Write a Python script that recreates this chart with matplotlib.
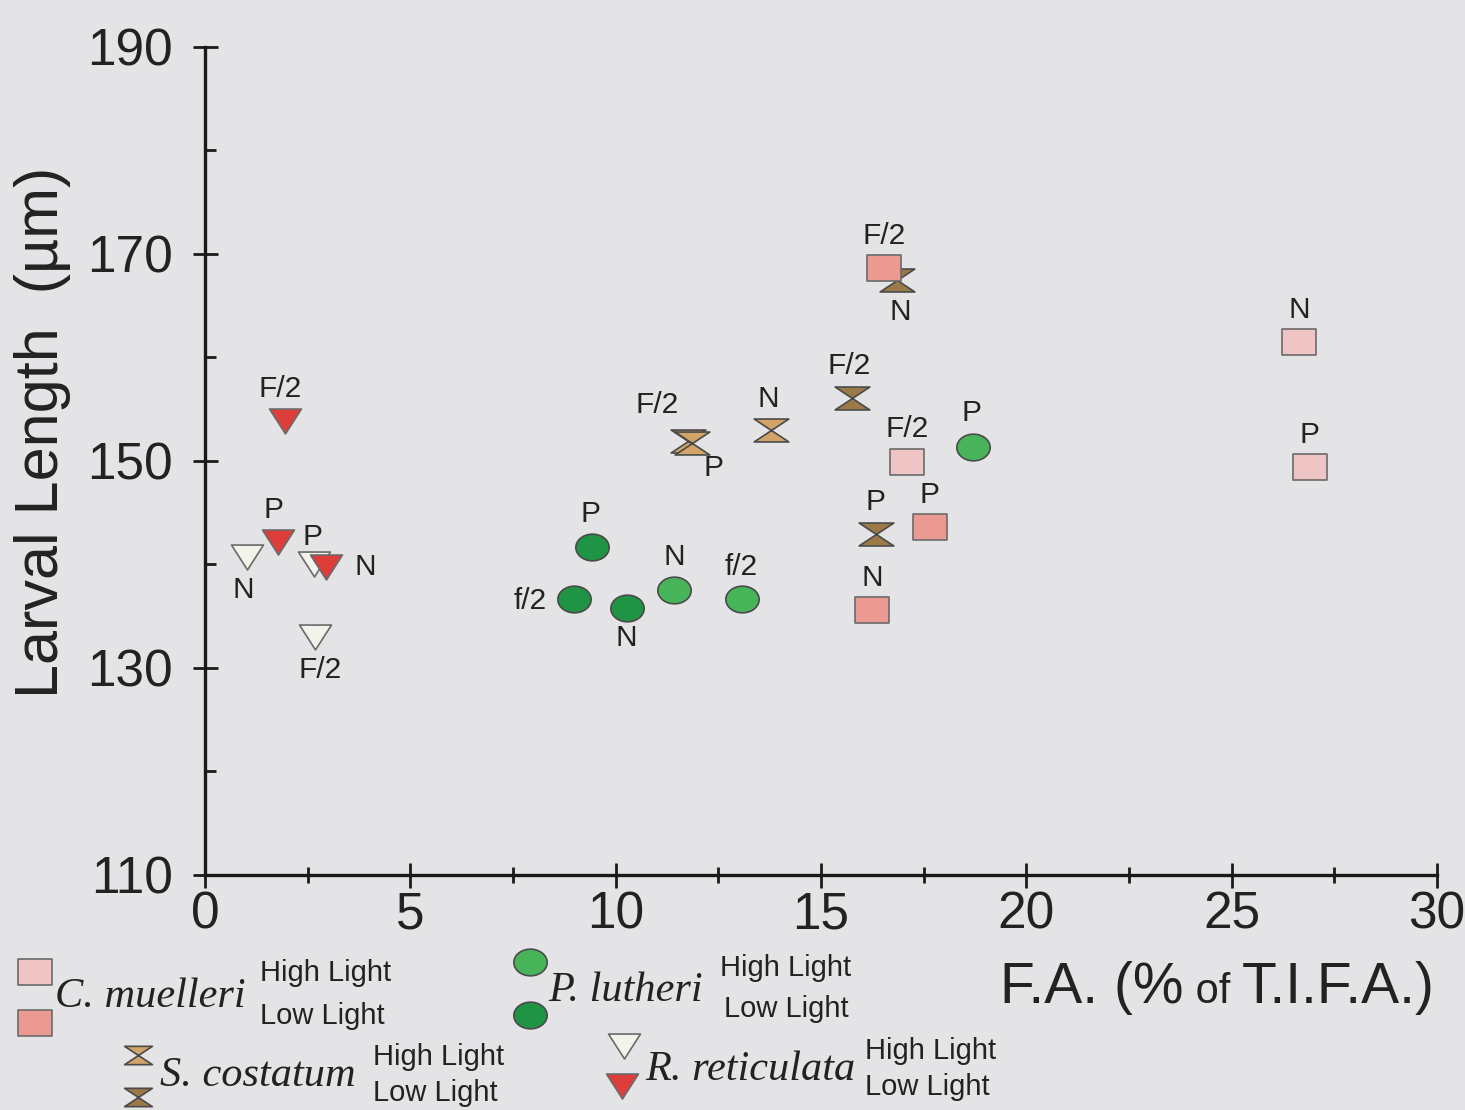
import numpy as np
import matplotlib
matplotlib.use("Agg")
import matplotlib.pyplot as plt
from matplotlib.path import Path

# ---- data: fatty acid (% of T.I.F.A.) vs larval length (um) ----
# each entry: medium label per point
cm_high_x = [17.09, 26.64, 26.90]
cm_high_y = [149.9, 161.5, 149.4]
cm_high_lab = ["F/2", "N", "P"]

cm_low_x = [16.53, 17.65, 16.24]
cm_low_y = [168.6, 143.6, 135.6]
cm_low_lab = ["F/2", "P", "N"]

sc_high_x = [11.75, 11.85, 13.78]
sc_high_y = [151.9, 151.7, 153.0]
sc_high_lab = ["F/2", "P", "N"]

sc_low_x = [15.75, 16.34, 16.85]
sc_low_y = [156.1, 142.9, 167.5]
sc_low_lab = ["F/2", "P", "N"]

pl_high_x = [11.42, 13.07, 18.70]
pl_high_y = [137.5, 136.7, 151.4]
pl_high_lab = ["N", "f/2", "P"]

pl_low_x = [9.42, 8.98, 10.27]
pl_low_y = [141.7, 136.7, 135.8]
pl_low_lab = ["P", "f/2", "N"]

rr_high_x = [1.03, 2.66, 2.68]
rr_high_y = [140.7, 140.0, 133.0]
rr_high_lab = ["N", "P", "F/2"]

rr_low_x = [1.95, 1.78, 2.95]
rr_low_y = [153.9, 142.2, 139.8]
rr_low_lab = ["F/2", "P", "N"]

x_ticks = [0, 5, 10, 15, 20, 25, 30]
y_ticks = [110, 130, 150, 170, 190]

# ---- marker shapes ----
def rect_marker(ratio):
    return Path([(-1, -ratio), (1, -ratio), (1, ratio), (-1, ratio), (-1, -ratio)],
                [Path.MOVETO, Path.LINETO, Path.LINETO, Path.LINETO, Path.CLOSEPOLY])

def ellipse_marker(ratio):
    t = np.linspace(0, 2 * np.pi, 60)
    return Path(np.column_stack([np.cos(t), ratio * np.sin(t)]), closed=True)

def tri_down_marker(ratio):
    return Path([(-1, ratio), (1, ratio), (0, -ratio), (-1, ratio)],
                [Path.MOVETO, Path.LINETO, Path.LINETO, Path.CLOSEPOLY])

def hourglass_marker(ratio):
    return Path([(-1, ratio), (1, ratio), (0, 0), (1, -ratio), (-1, -ratio), (0, 0), (-1, ratio)],
                [Path.MOVETO, Path.LINETO, Path.LINETO, Path.LINETO, Path.LINETO, Path.LINETO,
                 Path.CLOSEPOLY])

SQ = rect_marker(0.80)
EL = ellipse_marker(0.80)
TR = tri_down_marker(0.78)
HG = hourglass_marker(0.66)

bg = "#e4e4e6"
edge = "#4a4a4a"
ink = "#222222"

styles = {
    "cm_high": dict(marker=SQ, ms=24, mfc="#eec4c4", mec="#6a6a6a"),
    "cm_low": dict(marker=SQ, ms=24, mfc="#ea9a90", mec="#6a6a6a"),
    "sc_high": dict(marker=HG, ms=25, mfc="#d2a468", mec=edge),
    "sc_low": dict(marker=HG, ms=25, mfc="#9c7a48", mec=edge),
    "pl_high": dict(marker=EL, ms=24, mfc="#48b45a", mec=edge),
    "pl_low": dict(marker=EL, ms=24, mfc="#1f9444", mec=edge),
    "rr_high": dict(marker=TR, ms=23, mfc="#f3f3ec", mec="#6a6a6a"),
    "rr_low": dict(marker=TR, ms=23, mfc="#de3e3a", mec="#6a6a6a"),
}

# label offsets in pixels (dx right, dy down) for each point
offsets = {
    "cm_high": [(0, -33), (0, -32), (0, -32)],
    "cm_low": [(0, -32), (0, -32), (0, -32)],
    "sc_high": [(-30, -36), (22, 25), (-3, -31)],
    "sc_low": [(-3, -32), (-1, -32), (3, 32)],
    "pl_high": [(0, -33), (-1, -32), (-1, -34)],
    "pl_low": [(-1, -33), (-44, 2), (-1, 30)],
    "rr_high": [(-4, 33), (-2, -27), (5, 33)],
    "rr_low": [(-5, -32), (-5, -32), (39, 0)],
}

series = [
    ("sc_high", sc_high_x, sc_high_y, sc_high_lab),
    ("sc_low", sc_low_x, sc_low_y, sc_low_lab),
    ("pl_high", pl_high_x, pl_high_y, pl_high_lab),
    ("pl_low", pl_low_x, pl_low_y, pl_low_lab),
    ("rr_high", rr_high_x, rr_high_y, rr_high_lab),
    ("rr_low", rr_low_x, rr_low_y, rr_low_lab),
    ("cm_high", cm_high_x, cm_high_y, cm_high_lab),
    ("cm_low", cm_low_x, cm_low_y, cm_low_lab),
]

plt.rcParams["font.family"] = ["Liberation Sans", "DejaVu Sans"]
W, H = 1465, 1110
fig = plt.figure(figsize=(W / 100, H / 100), dpi=100, facecolor=bg)
ax = fig.add_axes([205 / W, 1 - 875 / H, (1437 - 205) / W, (875 - 47) / H])
ax.set_facecolor(bg)

PX = 0.72  # points per pixel at 100 dpi
for key, xs, ys, labs in series:
    st = styles[key]
    ax.plot(xs, ys, linestyle="none", marker=st["marker"], ms=st["ms"],
            mfc=st["mfc"], mec=st["mec"], mew=1.2, zorder=3)
    for x, y, lab, (dx, dy) in zip(xs, ys, labs, offsets[key]):
        ax.annotate(lab, (x, y), xytext=(dx * PX, -dy * PX), textcoords="offset points",
                    ha="center", va="center", fontsize=21.5, color=ink, zorder=4)

ax.set_xlim(0, 30)
ax.set_ylim(110, 190)
ax.set_xticks(x_ticks)
ax.set_yticks(y_ticks)
ax.set_xticks(np.arange(2.5, 30, 5), minor=True)
ax.set_yticks(np.arange(120, 190, 20), minor=True)
for s in ["top", "right"]:
    ax.spines[s].set_visible(False)
for s in ["left", "bottom"]:
    ax.spines[s].set_linewidth(2.4)
    ax.spines[s].set_color("#1a1a1a")
ax.tick_params(which="major", direction="inout", length=18, width=2, colors="#1a1a1a",
               labelsize=37, labelcolor=ink)
ax.tick_params(axis="y", which="major", pad=14)
ax.tick_params(axis="x", which="major", pad=2)
ax.tick_params(which="minor", direction="inout", length=12, width=2, colors="#1a1a1a")
ax.tick_params(axis="y", which="minor", direction="in", length=8)

# y-axis title
fig.text(43 / W, 1 - 432 / H, "Larval Length  (\u00b5m)", rotation=90, ha="center",
         va="center", fontsize=44, color=ink)

# x-axis title built from pieces with different sizes
fig.canvas.draw()
r = fig.canvas.get_renderer()
xpos = 1000
ybase = 1 - 1003 / H
for txt, fs in [("F.A. (%", 41), (" of ", 30), ("T.I.F.A.)", 41)]:
    t = fig.text(xpos / W, ybase, txt, ha="left", va="baseline", fontsize=fs, color=ink)
    bb = t.get_window_extent(renderer=r)
    xpos += bb.width

# legend drawn on an overlay in pixel units
lax = fig.add_axes([0, 0, 1, 1], facecolor="none")
lax.set_xlim(0, W)
lax.set_ylim(H, 0)
lax.axis("off")

legend_items = [
    ("cm", "C. muelleri", (35, 972), (35, 1023), (55, 997), (260, 973), (260, 1016)),
    ("sc", "S. costatum", (138, 1055), (138, 1097), (160, 1076), (373, 1057), (373, 1093)),
    ("pl", "P. lutheri", (530, 962), (530, 1015), (548, 991), (720, 968), (724, 1009)),
    ("rr", "R. reticulata", (624, 1046), (622, 1086), (645, 1070), (865, 1051), (865, 1087)),
]
for key, name, hp, lp, npos, hl, ll in legend_items:
    for pos, lvl in [(hp, "high"), (lp, "low")]:
        st = styles[f"{key}_{lvl}"]
        ms = st["ms"] * (0.8 if key == "sc" else 1.0)
        lax.plot([pos[0]], [pos[1]], linestyle="none", marker=st["marker"], ms=ms,
                 mfc=st["mfc"], mec=st["mec"], mew=1.2)
    lax.text(npos[0], npos[1], name, family=["Liberation Serif", "DejaVu Serif"],
             style="italic", fontsize=30.5, ha="left", va="center", color=ink)
    lax.text(hl[0], hl[1], "High Light", fontsize=21, ha="left", va="center", color=ink)
    lax.text(ll[0], ll[1], "Low Light", fontsize=21, ha="left", va="center", color=ink)

fig.savefig("out.png", dpi=100, facecolor=bg)
